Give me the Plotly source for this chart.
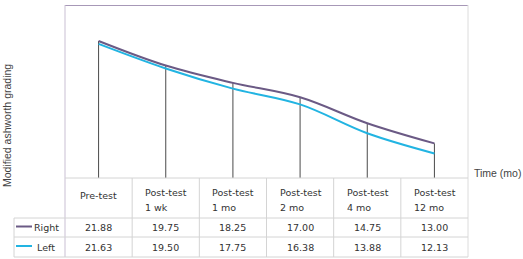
import plotly.graph_objects as go

categories = ["Pre-test", "Post-test<br>1 wk", "Post-test<br>1 mo", "Post-test<br>2 mo", "Post-test<br>4 mo", "Post-test<br>12 mo"]
right_vals = [21.88, 19.75, 18.25, 17.00, 14.75, 13.00]
left_vals = [21.63, 19.50, 17.75, 16.38, 13.88, 12.13]
series_names = ["Right", "Left"]
series_colors = ["#6b5a85", "#22b4e2"]

W, H = 523, 259
PL, PR, PT, PB = 65, 468, 5, 178
ROW1, ROW2, ROW3 = 218, 237, 257
LBL_L = 14

def px(x):
    return x / W

def py(y):
    return 1 - y / H

n = len(categories)
xs = list(range(n))
fig = go.Figure()
for name, vals, col in zip(series_names, [right_vals, left_vals], series_colors):
    fig.add_trace(go.Scatter(x=xs, y=vals, mode="lines", name=name,
                             line=dict(color=col, width=2, shape="spline", smoothing=1.0),
                             showlegend=False, hoverinfo="skip"))

shapes = []
line_grey = "#d4d4d4"
# drop lines
for i in xs:
    shapes.append(dict(type="line", xref="x", yref="y", x0=i, x1=i, y0=10,
                       y1=max(right_vals[i], left_vals[i]),
                       line=dict(color="#4a4a4a", width=1), layer="below"))
# plot border
shapes.append(dict(type="line", xref="x", yref="y", x0=-0.5, x1=n - 0.5, y0=25, y1=25,
                   line=dict(color="#8a769f", width=1.5)))
shapes.append(dict(type="line", xref="paper", yref="paper", x0=px(PL), x1=px(PL), y0=py(PT), y1=py(ROW3),
                   line=dict(color="#c9bfd3", width=1)))
shapes.append(dict(type="line", xref="paper", yref="paper", x0=px(PR), x1=px(PR), y0=py(PT), y1=py(ROW3),
                   line=dict(color="#dcdcdc", width=1)))
# table horizontal lines
shapes.append(dict(type="line", xref="paper", yref="paper", x0=px(PL), x1=px(PR), y0=py(PB), y1=py(PB),
                   line=dict(color=line_grey, width=1)))
for yy in (ROW1, ROW2, ROW3):
    shapes.append(dict(type="line", xref="paper", yref="paper", x0=px(LBL_L), x1=px(PR), y0=py(yy), y1=py(yy),
                       line=dict(color=line_grey, width=1)))
shapes.append(dict(type="line", xref="paper", yref="paper", x0=px(LBL_L), x1=px(LBL_L), y0=py(ROW1), y1=py(ROW3),
                   line=dict(color=line_grey, width=1)))
# table vertical lines
for i in range(1, n):
    shapes.append(dict(type="line", xref="x", yref="paper", x0=i - 0.5, x1=i - 0.5, y0=py(PB), y1=py(ROW3),
                       line=dict(color=line_grey, width=1)))
# legend swatches
for k, col in enumerate(series_colors):
    yy = (ROW1 + ROW2) / 2 if k == 0 else (ROW2 + ROW3) / 2
    shapes.append(dict(type="line", xref="paper", yref="paper", x0=px(16), x1=px(32), y0=py(yy - 1), y1=py(yy - 1),
                       line=dict(color=col, width=2)))

tfont = dict(family="DejaVu Sans", size=9.5, color="#333333")
colw = (PR - PL) / n
ann = []
for i, c in enumerate(categories):
    parts = c.split("<br>")
    if len(parts) == 1:
        ann.append(dict(x=i, xref="x", y=py(195), yref="paper", text=parts[0], showarrow=False,
                        font=tfont, xanchor="center", yanchor="middle"))
    else:
        for j, p in enumerate(parts):
            ann.append(dict(x=i - 0.5 + 11 / colw, xref="x", y=py(192 + 15 * j), yref="paper", text=p,
                            showarrow=False, font=tfont, xanchor="left", yanchor="middle"))
    ann.append(dict(x=i, xref="x", y=py((ROW1 + ROW2) / 2), yref="paper", text=f"{right_vals[i]:.2f}",
                    showarrow=False, font=tfont, xanchor="center", yanchor="middle"))
    ann.append(dict(x=i, xref="x", y=py((ROW2 + ROW3) / 2), yref="paper", text=f"{left_vals[i]:.2f}",
                    showarrow=False, font=tfont, xanchor="center", yanchor="middle"))
ann.append(dict(x=px(32), xref="paper", y=py((ROW1 + ROW2) / 2), yref="paper", text=series_names[0],
                showarrow=False, font=tfont, xanchor="left", yanchor="middle"))
ann.append(dict(x=px(35), xref="paper", y=py((ROW2 + ROW3) / 2), yref="paper", text=series_names[1],
                showarrow=False, font=tfont, xanchor="left", yanchor="middle"))
afont = dict(family="Liberation Sans", size=10.5, color="#444444")
ann.append(dict(x=px(472), xref="paper", y=py(173), yref="paper", text="Time (mo)", showarrow=False,
                font=afont, xanchor="left", yanchor="middle"))
ann.append(dict(x=px(7), xref="paper", y=py(126), yref="paper", text="Modified ashworth grading",
                showarrow=False, font=afont, textangle=-90, xanchor="center", yanchor="middle"))

fig.update_layout(
    width=W, height=H, margin=dict(l=0, r=0, t=0, b=0),
    paper_bgcolor="white", plot_bgcolor="white",
    xaxis=dict(domain=[px(PL), px(PR)], range=[-0.5, n - 0.5], showgrid=False, zeroline=False,
               showticklabels=False, ticks="", showline=False, fixedrange=True),
    yaxis=dict(domain=[py(PB), py(PT)], range=[10, 25], showgrid=False, zeroline=False,
               showticklabels=False, ticks="", showline=False, fixedrange=True),
    shapes=shapes, annotations=ann,
)
fig.write_html("out.html")
